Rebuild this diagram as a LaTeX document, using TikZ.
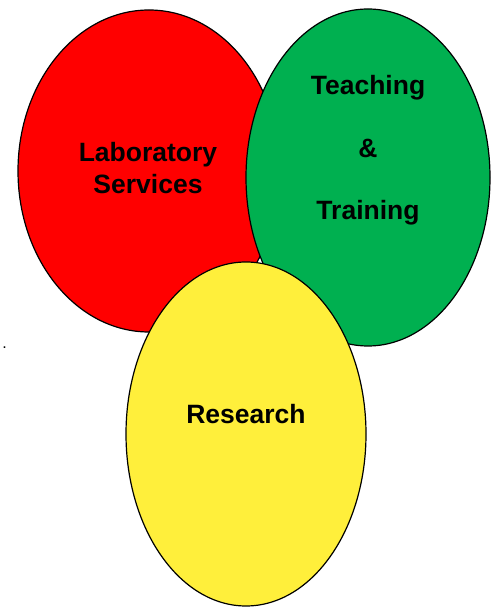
\documentclass[tikz,border=0pt]{standalone}
\usepackage{fontspec}
\setmainfont{Liberation Sans}
\usetikzlibrary{shapes.geometric}
\definecolor{cred}{HTML}{FF0000}
\definecolor{cgreen}{HTML}{00B050}
\definecolor{cyellow}{HTML}{FFEF3B}
\tikzset{
  blob/.style={ellipse, draw=black, line width=1.2pt, inner sep=0pt},
  lbl/.style={anchor=base, font=\fontsize{26.5}{31}\selectfont\bfseries, inner sep=0pt}
}
\begin{document}
\begin{tikzpicture}[x=1pt,y=1pt]
\useasboundingbox (0,0) rectangle (496,607);
\fill[white] (0,0) rectangle (496,607);
\node[blob, fill=cred, minimum width=262pt, minimum height=322pt] (lab) at (149,436) {};
\node[blob, fill=cgreen, minimum width=244pt, minimum height=337pt] (teach) at (368,429.5) {};
\node[blob, fill=cyellow, minimum width=240pt, minimum height=344pt] (res) at (246,173) {};
\node[lbl] (l1) at (148,445) {Laboratory};
\node[lbl] (l2) at (148,413) {Services};
\node[lbl] (t1) at (368,512) {Teaching};
\node[lbl] (t2) at (368,449) {\&};
\node[lbl] (t3) at (368,387) {Training};
\node[lbl] (r1) at (246,183) {Research};
\node[anchor=base, font=\fontsize{16}{18}\selectfont, inner sep=0pt] (dot) at (4.5,258) {.};
\end{tikzpicture}
\end{document}
